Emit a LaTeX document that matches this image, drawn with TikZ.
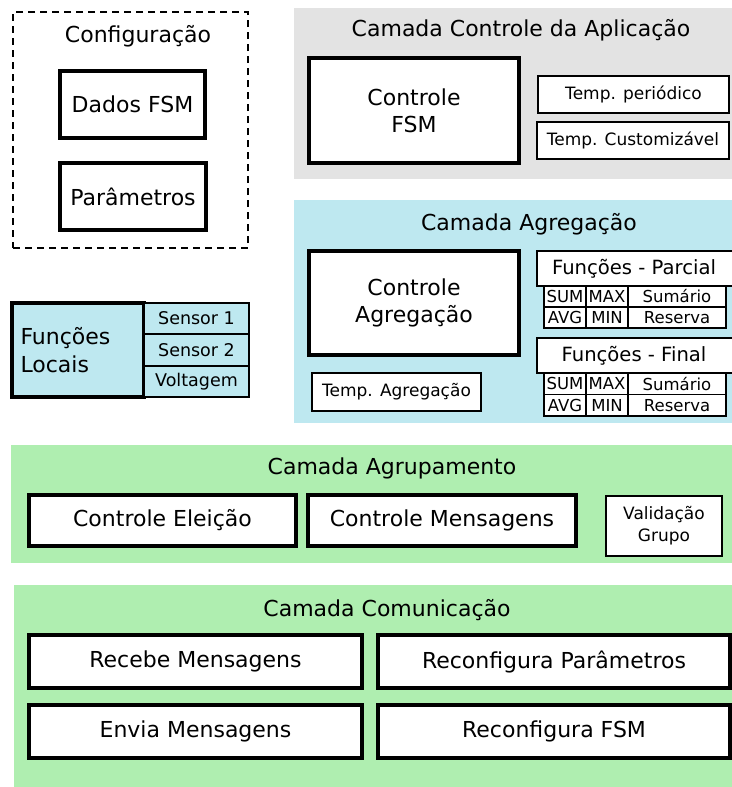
\documentclass[tikz,border=0pt]{standalone}
\usepackage{fontspec}
\setmainfont{DejaVu Sans}
\definecolor{ctrlgrey}{HTML}{E3E3E3}
\definecolor{aggblue}{HTML}{BEE8F0}
\definecolor{grpgreen}{HTML}{AFEEB0}
\newcommand\fbig{\fontsize{22}{27}\selectfont}
\newcommand\fmid{\fontsize{19.6}{23}\selectfont}
\newcommand\fsmall{\fontsize{17}{22}\selectfont}
\newcommand\fcell{\fontsize{16.5}{20}\selectfont}
\begin{document}
\begin{tikzpicture}[x=1pt,y=-1pt,
  thickbox/.style={draw, line width=3.2pt, fill=white, inner sep=0pt, font=\fbig, align=center},
  thinbox/.style={draw, line width=1.6pt, fill=white, inner sep=0pt, font=\fsmall, align=center},
  cellbox/.style={thinbox, font=\fcell},
  title/.style={inner sep=0pt, font=\fbig},
  dashbox/.style={draw, line width=1.5pt, dash pattern=on 7pt off 5pt, inner sep=0pt}]
\useasboundingbox (0,0) rectangle (731,787);

% layer backgrounds
\fill[ctrlgrey] (294,8) rectangle (733,179);
\fill[aggblue] (294,200) rectangle (733,423);
\fill[grpgreen] (11,445) rectangle (733,563);
\fill[grpgreen] (14,585) rectangle (733,790);

% configuration
\node[dashbox, minimum width=235, minimum height=236] (config) at (130.5,130) {};
\node[title] (configt) at (138,36) {Configuração};
\node[thickbox, minimum width=145, minimum height=67] (dados) at (132.5,104.5) {Dados FSM};
\node[thickbox, minimum width=146, minimum height=67] (param) at (133,196.5) {Parâmetros};

% application control layer
\node[title] (ctrlt) at (521,30) {Camada Controle da Aplicação};
\node[thickbox, minimum width=210, minimum height=105] (ctrlfsm) at (414,110.5) {Controle\\FSM};
\node[thinbox, minimum width=191, minimum height=37] (tper) at (633.5,94.5) {Temp. periódico};
\node[thinbox, minimum width=192, minimum height=37] (tcust) at (633,140.5) {Temp. Customizável};

% aggregation layer
\node[title] (aggt) at (529,224) {Camada Agregação};
\node[thickbox, minimum width=210, minimum height=104] (ctrlagg) at (414,303) {Controle\\Agregação};
\node[thinbox, minimum width=169, minimum height=38] (tagg) at (396.5,392) {Temp. Agregação};

\node[thinbox, font=\fmid, minimum width=198, minimum height=35] (fparc) at (636,268.5) {\hspace*{-4pt}Funções - Parcial};
\node[cellbox, minimum width=42, minimum height=21] (psum) at (565,296.5) {SUM};
\node[cellbox, minimum width=42, minimum height=21] (pmax) at (607,296.5) {MAX};
\node[cellbox, minimum width=98, minimum height=21] (psumario) at (677,296.5) {Sumário};
\node[cellbox, minimum width=42, minimum height=21] (pavg) at (565,317.5) {AVG};
\node[cellbox, minimum width=42, minimum height=21] (pmin) at (607,317.5) {MIN};
\node[cellbox, minimum width=98, minimum height=21] (preserva) at (677,317.5) {Reserva};

\node[thinbox, font=\fmid, minimum width=198, minimum height=35] (ffin) at (636,355.5) {\hspace*{-4pt}Funções - Final};
\node[cellbox, minimum width=42, minimum height=21.5] (fsum) at (565,383.75) {SUM};
\node[cellbox, minimum width=42, minimum height=21.5] (fmax) at (607,383.75) {MAX};
\node[cellbox, minimum width=98, minimum height=21.5] (fsumario) at (677,383.75) {Sumário};
\node[cellbox, minimum width=42, minimum height=21.5] (favg) at (565,405.25) {AVG};
\node[cellbox, minimum width=42, minimum height=21.5] (fmin) at (607,405.25) {MIN};
\node[cellbox, minimum width=98, minimum height=21.5] (freserva) at (677,405.25) {Reserva};

% local functions
\node[thickbox, fill=aggblue, minimum width=132, minimum height=94, text width=115, align=left, font=\fontsize{22}{28}\selectfont] (locais) at (78,350) {Funções\\Locais};
\node[thinbox, fill=aggblue, minimum width=105, minimum height=31, font=\fontsize{17.5}{22}\selectfont] (sens1) at (196.5,318.5) {Sensor 1};
\node[thinbox, fill=aggblue, minimum width=105, minimum height=32, font=\fontsize{17.5}{22}\selectfont] (sens2) at (196.5,350) {Sensor 2};
\node[thinbox, fill=aggblue, minimum width=105, minimum height=31, font=\fontsize{17.5}{22}\selectfont] (volt) at (196.5,381.5) {Voltagem};

% grouping layer
\node[title] (grpt) at (392,468) {Camada Agrupamento};
\node[thickbox, minimum width=267, minimum height=51] (eleicao) at (162.5,520.5) {Controle Eleição};
\node[thickbox, minimum width=268, minimum height=51] (msgs) at (442,520.5) {Controle Mensagens};
\node[thinbox, minimum width=116, minimum height=60] (valid) at (664,526) {Validação\\Grupo};

% communication layer
\node[title] (comt) at (387,610) {Camada Comunicação};
\node[thickbox, minimum width=333, minimum height=53] (recebe) at (195.5,661.5) {Recebe Mensagens};
\node[thickbox, minimum width=333, minimum height=53] (envia) at (195.5,731.5) {Envia Mensagens};
\node[thickbox, minimum width=352, minimum height=53] (rparam) at (554,661.5) {Reconfigura Parâmetros};
\node[thickbox, minimum width=352, minimum height=53] (rfsm) at (554,731.5) {Reconfigura FSM};
\end{tikzpicture}
\end{document}
